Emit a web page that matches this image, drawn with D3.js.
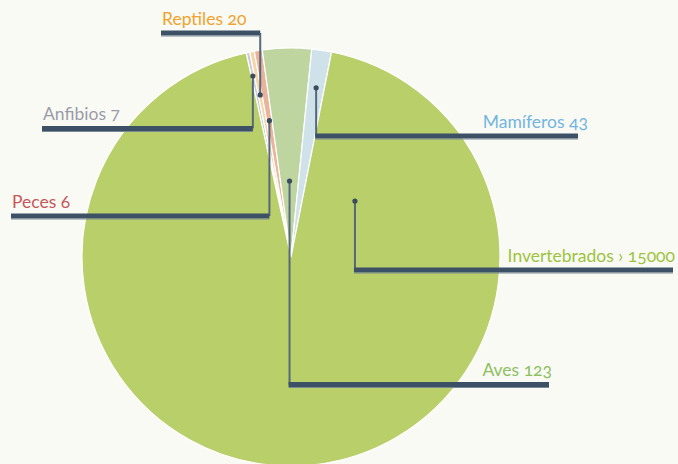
<!DOCTYPE html>
<html>
<head>
<meta charset="utf-8">
<script src="https://cdn.jsdelivr.net/npm/d3@7"></script>
<style>
  html, body { margin: 0; padding: 0; background: #fafaf5; }
  svg { display: block; }
  text { font-family: Lato, "Open Sans", sans-serif; font-feature-settings: "onum" 1; }
</style>
</head>
<body>
<svg id="chart" width="678" height="464"></svg>
<script>
// ---- data ----
const categories = ["Anfibios", "Reptiles", "Peces", "Aves", "Mamíferos", "Invertebrados"];
const valueLabels = ["7", "20", "6", "123", "43", "› 15000"];
// share of the circle each slice takes in the picture (degrees, as drawn)
const sliceShare = [1.0, 1.3, 2.2, 13.6, 5.5, 336.4];
const sliceColors = ["#c9cdd7", "#f6d6a9", "#eab39b", "#bfd5a0", "#cfe2ea", "#b9cf69"];
const textColors  = ["#9a9ba8", "#f0a22c", "#c4585a", "#8cc061", "#72b5e0", "#9cc33d"];

// ---- layout ----
const W = 678, H = 464;
const cx = 291, cy = 257, R = 209;
const startDeg = -12.4;
// annotation layout: dot radius, optional angle override (deg), bar y, far end x of bar, side
const annot = [
  { r: 185, barY: 128.5, end: 43,  side: "left",  textY: 120 },
  { r: 165, barY: 33,    end: 162, side: "left",  textY: 25 },
  { r: 138, barY: 216,   end: 12,  side: "left",  textY: 208 },
  { r: 76,  barY: 384.5, end: 549, side: "right", textY: 376, textEnd: 552 },
  { r: 171, barY: 136,   end: 578, side: "right", textY: 128, textEnd: 588 },
  { r: 85, angle: 48.8, barY: 270, end: 673, side: "right", textY: 262, textEnd: 675 }
];

const svg = d3.select("#chart");
svg.append("rect").attr("width", W).attr("height", H).attr("fill", "#fafaf5");

const rad = d => d * Math.PI / 180;
const pie = d3.pie().sort(null).value(d => d)
  .startAngle(rad(startDeg)).endAngle(rad(startDeg) + 2 * Math.PI);
const arcs = pie(sliceShare);
const arc = d3.arc().innerRadius(0).outerRadius(R);

const g = svg.append("g").attr("transform", `translate(${cx},${cy})`);
g.selectAll("path").data(arcs).join("path")
  .attr("d", arc)
  .attr("fill", (d, i) => sliceColors[i])
  .attr("stroke", "#ffffff")
  .attr("stroke-width", 1.2)
  .attr("stroke-linejoin", "round");

// annotations
const ann = svg.append("g");
arcs.forEach((a, i) => {
  const L = annot[i];
  const ang = L.angle !== undefined ? rad(L.angle) : (a.startAngle + a.endAngle) / 2;
  const dx = cx + L.r * Math.sin(ang);
  const dy = cy - L.r * Math.cos(ang);
  const x0 = Math.min(dx, L.end), x1 = Math.max(dx, L.end);
  // vertical leader
  ann.append("line")
    .attr("x1", dx).attr("x2", dx)
    .attr("y1", dy).attr("y2", L.barY)
    .attr("stroke", "#56697b").attr("stroke-width", 2);
  // thick bar
  ann.append("rect")
    .attr("x", x0 - 1).attr("y", L.barY - 2.5)
    .attr("width", x1 - x0 + 1).attr("height", 5)
    .attr("fill", "#3c5166");
  ann.append("rect")
    .attr("x", x0 - 1).attr("y", L.barY + 2.5)
    .attr("width", x1 - x0 + 1).attr("height", 1)
    .attr("fill", "#7a8a94");
  // dot
  ann.append("circle").attr("cx", dx).attr("cy", dy).attr("r", 2.6).attr("fill", "#3a4c5e");
  // label
  const t = ann.append("text")
    .attr("y", L.textY)
    .attr("fill", textColors[i])
    .attr("font-size", 17.5)
    .text(categories[i] + " " + valueLabels[i]);
  if (L.side === "left") t.attr("x", L.end).attr("text-anchor", "start");
  else t.attr("x", L.textEnd).attr("text-anchor", "end");
});
</script>
</body>
</html>
